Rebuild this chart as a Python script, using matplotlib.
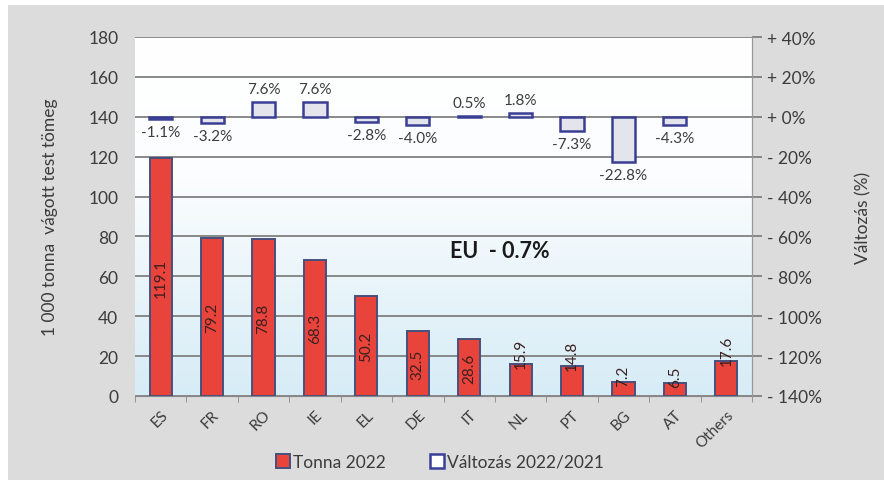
import numpy as np
import matplotlib
matplotlib.use("Agg")
import matplotlib.pyplot as plt
from matplotlib.patches import Rectangle, Patch
from matplotlib.colors import LinearSegmentedColormap

plt.rcParams['font.family'] = ['Lato', 'DejaVu Sans']

# data
countries = ['ES', 'FR', 'RO', 'IE', 'EL', 'DE', 'IT', 'NL', 'PT', 'BG', 'AT', 'Others']
tonnes_2022 = [119.1, 79.2, 78.8, 68.3, 50.2, 32.5, 28.6, 15.9, 14.8, 7.2, 6.5, 17.6]
change_pct = [-1.1, -3.2, 7.6, 7.6, -2.8, -4.0, 0.5, 1.8, -7.3, -22.8, -4.3, np.nan]
left_ticks = [0, 20, 40, 60, 80, 100, 120, 140, 160, 180]
right_ticks = [-140, -120, -100, -80, -60, -40, -20, 0, 20, 40]
eu_text = 'EU  - 0.7%'

txt = '#3c3c3c'
red = '#e8443c'
navy = '#3a3f96'

fig = plt.figure(figsize=(8.84, 4.81), dpi=100, facecolor='white')
fig.patches.append(Rectangle((8/884, 0), 1, 1 - 6/481, transform=fig.transFigure,
                             facecolor='#dcdcdc', edgecolor='none', zorder=-10))

ax = fig.add_axes([135/884, 84/481, 617/884, 359/481])
x = np.arange(len(countries))

# gradient background in plot area (light blue at bottom, white at top)
grad = np.linspace(0, 1, 256).reshape(-1, 1)
cmap = LinearSegmentedColormap.from_list('bg', [(0, '#d6ecf6'), (0.6, '#fbfdfe'), (1, '#ffffff')])
ax.imshow(grad, aspect='auto', cmap=cmap, origin='lower', extent=[0, 1, 0, 1],
          transform=ax.transAxes, zorder=0)

ax.set_xlim(-0.5, len(countries) - 0.5)
ax.set_ylim(0, 180)
ax.set_yticks(left_ticks)
ax.yaxis.grid(True, color='#808080', lw=1.3, zorder=1)
ax.set_axisbelow(True)

ax.bar(x, tonnes_2022, width=0.43, color=red, edgecolor='#46507e', lw=1.4, zorder=3)
for xi, v in zip(x, tonnes_2022):
    if v > 25:
        ax.text(xi, v / 2, f'{v:.1f}', rotation=90, ha='center', va='center',
                fontsize=11, color='#3a2020', zorder=5)
    else:
        ax.text(xi, v - 2, f'{v:.1f}', rotation=90, ha='center', va='bottom',
                fontsize=11, color='#3a2020', zorder=5)

ax.set_xticks(x)
ax.set_xticklabels(countries, rotation=45, ha='right', rotation_mode='anchor',
                   fontsize=11, color=txt)
ax.set_xticks(np.arange(-0.5, len(countries), 1), minor=True)
ax.tick_params(axis='x', which='major', length=0, pad=8)
ax.tick_params(axis='x', which='minor', length=4, color='#888888')
ax.tick_params(axis='y', length=0, labelsize=12.5, labelcolor=txt, pad=12)
for s in ['top', 'left']:
    ax.spines[s].set_visible(False)
ax.spines['bottom'].set_color('#888888')
ax.spines['right'].set_color('#999999')
ax.set_ylabel('1 000 tonna  vágott test tömeg', fontsize=12.5, color=txt, labelpad=22)

ax2 = ax.twinx()
ax2.set_ylim(-140, 40)
ax2.set_yticks(right_ticks)
ax2.set_yticklabels([('+ ' if t >= 0 else '- ') + f'{abs(t)}%' for t in right_ticks],
                    fontsize=12.5, color=txt)
ax2.tick_params(axis='y', length=7, color='#808080', width=1.3, pad=4)
for s in ['top', 'left', 'bottom']:
    ax2.spines[s].set_visible(False)
ax2.spines['right'].set_color('#999999')
ax2.bar(x, change_pct, width=0.45, color='#e4e4ec', edgecolor=navy, lw=1.8, zorder=3)
for xi, p in zip(x, change_pct):
    if np.isnan(p):
        continue
    if p < 0:
        ax2.text(xi, p - 3, f'{p:.1f}%', ha='center', va='top', fontsize=11, color=txt)
    else:
        ax2.text(xi, p + 3, f'{p:.1f}%', ha='center', va='bottom', fontsize=11, color=txt)
ax2.set_ylabel('Változás (%)', fontsize=12.5, color=txt, rotation=90, labelpad=24)

ax.text(6.6, 73, eu_text, ha='center', va='center', fontsize=15.5, fontweight='bold',
        color='#1a1a1a', zorder=6)

handles = [Patch(facecolor=red, edgecolor='#46507e', lw=1.4),
           Patch(facecolor='white', edgecolor=navy, lw=1.8)]
fig.legend(handles, ['Tonna 2022', 'Változás 2022/2021'], loc='center',
           bbox_to_anchor=(440/884, 1 - 463/481), ncol=2, frameon=False,
           fontsize=12.5, labelcolor=txt, handlelength=0.8, handleheight=0.8,
           handletextpad=0.2, columnspacing=2.5)

fig.savefig('out.png', dpi=100, facecolor=fig.get_facecolor())
